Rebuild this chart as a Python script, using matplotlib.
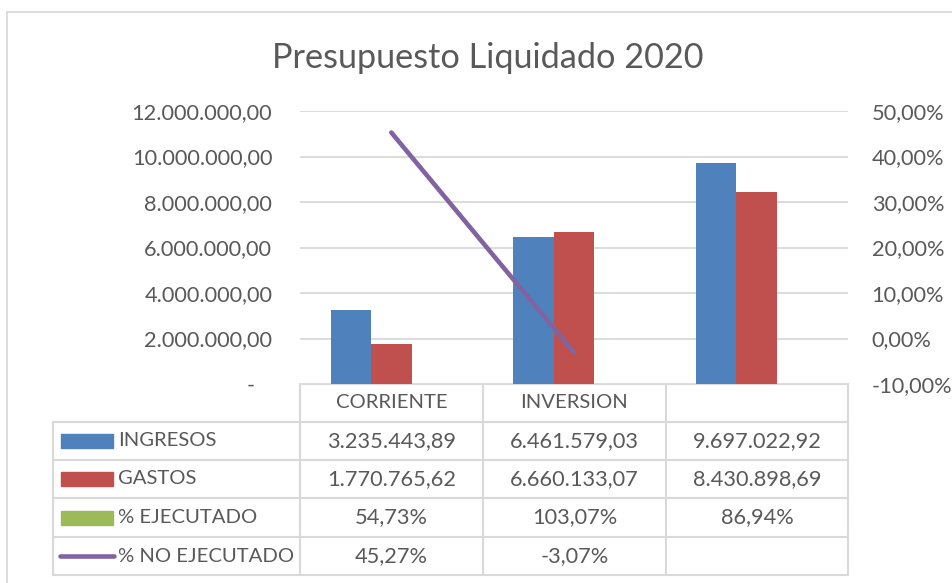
import numpy as np
import matplotlib
matplotlib.use('Agg')
import matplotlib.pyplot as plt
from matplotlib.ticker import FuncFormatter

plt.rcParams['font.family'] = ['Lato', 'DejaVu Sans']

# data
categorias = ['CORRIENTE', 'INVERSION', '']
ingresos = [3235443.89, 6461579.03, 9697022.92]
gastos = [1770765.62, 6660133.07, 8430898.69]
ejecutado = [0.5473, 1.0307, 0.8694]
no_ejecutado = [0.4527, -0.0307, np.nan]
series = ['INGRESOS', 'GASTOS', '% EJECUTADO', '% NO EJECUTADO']

AZUL = '#4F81BD'
ROJO = '#C0504D'
VERDE = '#9BBB59'
MORADO = '#8064A2'
GRIS = '#D9D9D9'
TEXTO = '#595959'
FS = 15.7      # numbers
FS_TXT = 14.6  # uppercase labels

W, H = 953, 583


def fmt_num(v):
    s = f"{v:,.2f}"
    return s.replace(',', 'X').replace('.', ',').replace('X', '.')


def fmt_pct(v):
    if np.isnan(v):
        return ''
    return f"{v * 100:.2f}%".replace('.', ',')


fig = plt.figure(figsize=(W / 100, H / 100), dpi=100)

# overlay in pixel coords for border + table
ov = fig.add_axes([0, 0, 1, 1])
ov.set_xlim(0, W)
ov.set_ylim(H, 0)
ov.axis('off')

# main plot area
x0, x1, ytop, ybot = 300, 848, 111, 384
ax = fig.add_axes([x0 / W, (H - ybot) / H, (x1 - x0) / W, (ybot - ytop) / H])
x = np.arange(len(categorias))
w = 0.222
ax.bar(x - w, ingresos, w, color=AZUL, zorder=3)
ax.bar(x, gastos, w, color=ROJO, zorder=3)
# % EJECUTADO sits on the primary axis too, so it is too small to see
ax.bar(x + w, ejecutado, w, color=VERDE, zorder=3)
ax.set_xlim(-0.5, 2.5)
ax.set_ylim(0, 12e6)
ax.set_yticks(np.arange(0, 12e6 + 1, 2e6))
ax.yaxis.set_major_formatter(FuncFormatter(lambda v, p: '-   ' if v == 0 else fmt_num(v)))
ax.grid(axis='y', color=GRIS, lw=1.3, zorder=0)
ax.set_xticks([])
ax.tick_params(axis='y', length=0, pad=20, labelsize=FS, labelcolor=TEXTO)
for s in ax.spines.values():
    s.set_visible(False)

ax2 = ax.twinx()
ax2.plot(x, no_ejecutado, color=MORADO, lw=3.3, solid_capstyle='round', zorder=4)
ax2.set_ylim(-0.10, 0.50)
ax2.set_yticks(np.arange(-0.10, 0.501, 0.10))
ax2.yaxis.set_major_formatter(FuncFormatter(lambda v, p: fmt_pct(round(v, 4))))
ax2.tick_params(axis='y', length=0, pad=17, labelsize=FS, labelcolor=TEXTO)
for s in ax2.spines.values():
    s.set_visible(False)

# title
fig.text(488 / W, 1 - 58 / H, 'Presupuesto Liquidado 2020', ha='center', va='center',
         fontsize=24.7, color=TEXTO)

# chart border
ov.plot([7, W], [12, 12], color=GRIS, lw=1.3)
ov.plot([7, 7], [12, H], color=GRIS, lw=1.3)

# data table
cols = [x0, 483, 666, x1]
rows = [ybot, 422, 460, 498, 537, 575]
lx = 53
tkw = dict(color=GRIS, lw=1.5, solid_capstyle='projecting')
ov.plot([x0, x1], [rows[0], rows[0]], **tkw)
for c in cols:
    ov.plot([c, c], [rows[0], rows[-1]], **tkw)
for r in rows[1:]:
    ov.plot([lx, x1], [r, r], **tkw)
ov.plot([lx, lx], [rows[1], rows[-1]], **tkw)

for j, cat in enumerate(categorias):
    cx = (cols[j] + cols[j + 1]) / 2
    ov.text(cx, (rows[0] + rows[1]) / 2, cat, ha='center', va='center', fontsize=FS_TXT, color=TEXTO)

valores = [
    [fmt_num(v) for v in ingresos],
    [fmt_num(v) for v in gastos],
    [fmt_pct(v) for v in ejecutado],
    [fmt_pct(v) for v in no_ejecutado],
]
claves = [AZUL, ROJO, VERDE, MORADO]
for i, nombre in enumerate(series):
    cy = (rows[i + 1] + rows[i + 2]) / 2
    if i < 3:
        ov.add_patch(plt.Rectangle((61, cy - 7), 52, 14, color=claves[i]))
    else:
        ov.plot([60, 114], [cy, cy], color=claves[i], lw=3.3, solid_capstyle='round')
    ov.text(118, cy, nombre, ha='left', va='center', fontsize=FS_TXT, color=TEXTO)
    for j in range(len(categorias)):
        cx = (cols[j] + cols[j + 1]) / 2
        ov.text(cx, cy, valores[i][j], ha='center', va='center', fontsize=FS, color=TEXTO)

fig.savefig('out.png', dpi=100)
